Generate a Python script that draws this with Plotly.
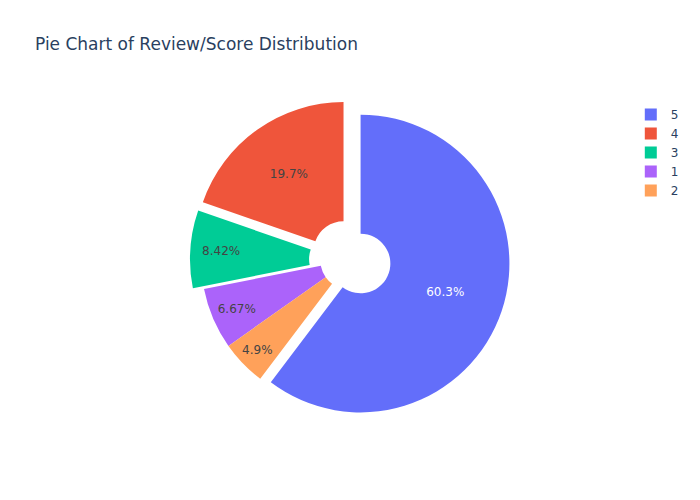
import plotly.graph_objects as go

labels = ["5", "4", "3", "1", "2"]
values = [60.3, 19.7, 8.42, 6.67, 4.9]
pulls = [0.075, 0.075, 0.075, 0, 0]

W, H = 692, 492  # page body adds an 8px margin in the viewer
fig = go.Figure(go.Pie(labels=labels, values=values, pull=pulls, hole=0.2))
fig.update_layout(
    title=dict(text="Pie Chart of Review/Score Distribution",
               x=27 / W, xanchor="left", y=1 - 36 / H, yanchor="middle"),
    font=dict(family="DejaVu Sans"),
    width=W, height=H,
    margin=dict(t=92, b=80, l=72, r=80),
)
fig.write_html("out.html")
